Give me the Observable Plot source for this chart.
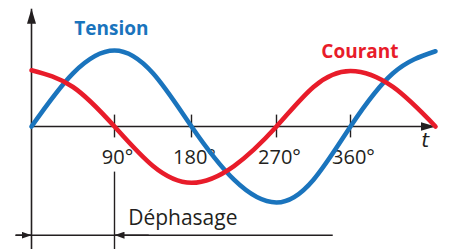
<!DOCTYPE html>
<html><head><meta charset="utf-8">
<script src="https://cdn.jsdelivr.net/npm/d3@7"></script>
<script src="https://cdn.jsdelivr.net/npm/@observablehq/plot@0.6"></script>
<style>html,body{margin:0;padding:0;background:#fff;} #chart svg{display:block}</style>
</head><body><div id="chart"></div>
<script>
// phase angle (degrees)
const degrees = [0, 45, 90, 135, 180, 225, 270, 315, 360, 405, 450];
// values (relative amplitude)
const tension = [0, 0.7, 1, 0.7, 0, -0.7, -1, -0.7, 0, 0.7, 0.99];
const courant = [0.74, 0.52, 0, -0.52, -0.74, -0.52, 0, 0.52, 0.73, 0.52, 0];
const tickDegrees = [90, 180, 270, 360];
const tickLabels = ["90°", "180°", "270°", "360°"];
const seriesNames = ["Tension", "Courant"];
const axisLabel = "t";
const phaseLabel = "Déphasage";

const blue = "#1a74bd";
const red = "#e81c2a";
const ink = "#231f20";
const font = "'Open Sans', sans-serif";

const tData = degrees.map((d, i) => ({deg: d, v: tension[i]}));
const cData = degrees.map((d, i) => ({deg: d, v: courant[i]}));

const plot = Plot.plot({
  width: 450, height: 249, margin: 0,
  x: {type: "linear", domain: [0, 90, 180, 270, 360, 450], range: [31, 114, 191, 276, 350, 435], axis: null},
  y: {type: "linear", domain: [-1, 0, 1], range: [202, 126, 50], axis: null},
  style: {background: "white", overflow: "visible"},
  marks: [
    // axes (links 0 and 1)
    Plot.link([0], {x1: 0, x2: 0, y1: -1.7, y2: 1.55, stroke: ink, strokeWidth: 1.6}),
    Plot.link([0], {x1: 0, x2: 450, y1: 0, y2: 0, stroke: ink, strokeWidth: 1.6}),
    Plot.ruleX(tickDegrees, {x: d => d, y1: 0.15, y2: -0.15, stroke: ink, strokeWidth: 1.4}),
    Plot.text(tickLabels, {x: (d, i) => tickDegrees[i], y: -0.487, text: d => d, lineAnchor: "bottom", dx: 3,
      fontFamily: font, fontSize: 20, fill: ink}),
    Plot.text([axisLabel], {x: 439, y: -0.27, text: d => d, lineAnchor: "bottom", fontFamily: "'DejaVu Sans', sans-serif",
      fontStyle: "italic", fontSize: 20, fill: ink}),
    // déphasage dimension (links 2 and 3)
    Plot.ruleX([90], {x: d => d, y1: -0.6, y2: -1.7, stroke: ink, strokeWidth: 1.4}),
    Plot.ruleY([-1.43], {y: d => d, x1: -17, x2: 339, stroke: ink, strokeWidth: 1.4}),
    Plot.link([0], {x1: -17, x2: 0, y1: -1.43, y2: -1.43, stroke: ink, strokeWidth: 1.4}),
    Plot.link([0], {x1: 130, x2: 90, y1: -1.43, y2: -1.43, stroke: ink, strokeWidth: 1.4}),
    Plot.text([phaseLabel], {x: 106, y: -1.30, text: d => d, lineAnchor: "bottom", textAnchor: "start",
      fontFamily: font, fontSize: 21, fill: ink}),
    // curves
    Plot.line(tData, {x: "deg", y: "v", curve: "natural", stroke: blue, strokeWidth: 4.6, strokeLinecap: "round"}),
    Plot.line(cData, {x: "deg", y: "v", curve: "natural", stroke: red, strokeWidth: 4.6, strokeLinecap: "round"}),
    // series labels
    Plot.text([seriesNames[0]], {x: 86.7, y: 1.2, text: d => d, lineAnchor: "bottom", fontFamily: font,
      fontWeight: "bold", fontSize: 19, fill: blue}),
    Plot.text([seriesNames[1]], {x: 370, y: 0.895, text: d => d, lineAnchor: "bottom", fontFamily: font,
      fontWeight: "bold", fontSize: 19, fill: red})
  ]
});

const svg = d3.select(plot);
const defs = svg.insert("defs", ":first-child");
defs.append("marker").attr("id", "bigTri").attr("markerUnits", "userSpaceOnUse")
  .attr("viewBox", "0 0 15 9").attr("markerWidth", 15).attr("markerHeight", 9)
  .attr("refX", 15).attr("refY", 4.5).attr("orient", "auto")
  .append("path").attr("d", "M0,0L15,4.5L0,9Z").attr("fill", ink).attr("stroke", "none");
defs.append("marker").attr("id", "smallTri").attr("markerUnits", "userSpaceOnUse")
  .attr("viewBox", "0 0 10 7").attr("markerWidth", 10).attr("markerHeight", 7)
  .attr("refX", 10).attr("refY", 3.5).attr("orient", "auto")
  .append("path").attr("d", "M0,0L10,3.5L0,7Z").attr("fill", ink).attr("stroke", "none");
svg.selectAll('g[aria-label="link"]').each(function(_, i) {
  d3.select(this).selectAll("path").attr("marker-end", i < 2 ? "url(#bigTri)" : "url(#smallTri)");
});

document.getElementById("chart").appendChild(plot);
</script>
</body></html>
